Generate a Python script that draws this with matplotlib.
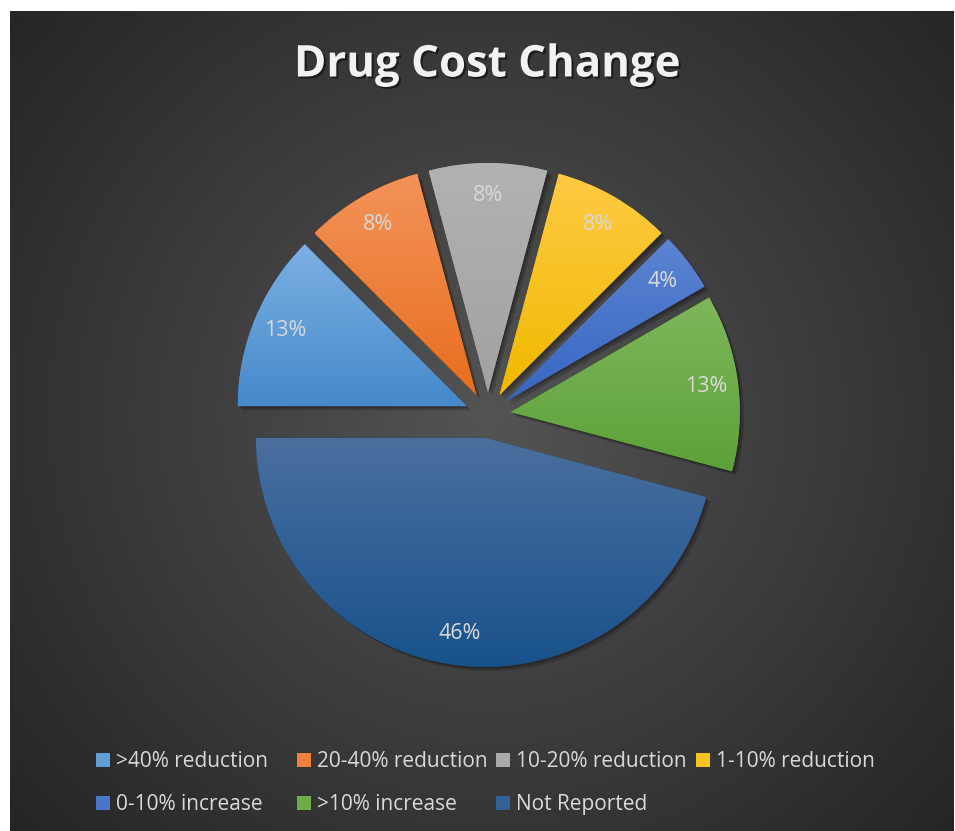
import numpy as np
import matplotlib
matplotlib.use("Agg")
import matplotlib.pyplot as plt
from matplotlib.patches import Patch
from matplotlib.legend import Legend
from matplotlib.colors import LinearSegmentedColormap, to_rgb
import matplotlib.patheffects as pe

plt.rcParams['font.family'] = ['Open Sans', 'DejaVu Sans']

# Data (counts out of 24 respondents -> 13%, 8%, 8%, 8%, 4%, 13%, 46%)
labels = [">40% reduction", "20-40% reduction", "10-20% reduction", "1-10% reduction",
          "0-10% increase", ">10% increase", "Not Reported"]
counts = [3, 2, 2, 2, 1, 3, 11]

# Excel style gradient fills (top colour, bottom colour)
top_colors = ["#7CB0E2", "#F3935A", "#B2B2B2", "#FFCA45", "#5C84D2", "#7EB75B", "#4B6F9F"]
bottom_colors = ["#468ACB", "#E86E1E", "#A2A2A2", "#F0B900", "#3767C2", "#5DA139", "#18528B"]

W, H = 955, 831
fig = plt.figure(figsize=(W / 100, H / 100), dpi=100, facecolor="white")
ax = fig.add_axes([0, 0, 1, 1])

# radial gradient background of the chart area
cx, cy = 488, 416
xx, yy = np.meshgrid(np.linspace(10, 953, 400), np.linspace(0, 820, 350))
d = np.hypot(xx - cx, yy - cy) / 640
bg = np.clip(84 - 48 * d, 30, 90) / 255
ax.imshow(np.dstack([bg, bg, bg]), extent=(10, 953, 0, 820), origin="lower",
          aspect="auto", zorder=0, interpolation="bilinear")

def pct_fmt(p):
    return f"{int(p + 0.5)}%"

wedges, texts, autotexts = ax.pie(
    counts, explode=[23] * len(counts), startangle=180, counterclock=False,
    radius=229, center=(cx, cy), autopct=pct_fmt, pctdistance=0.86,
    colors=bottom_colors, textprops=dict(color="#D9D9D9", fontsize=15.5),
    wedgeprops=dict(linewidth=0))

shadow = [pe.SimplePatchShadow(offset=(3, -3), shadow_rgbFace="black", alpha=0.18),
          pe.SimplePatchShadow(offset=(1.5, -1.5), shadow_rgbFace="black", alpha=0.22),
          pe.Normal()]

for w, c_top, c_bot in zip(wedges, top_colors, bottom_colors):
    w.set_path_effects(shadow)
    w.set_zorder(2)
    ext = w.get_path().get_extents()
    cmap = LinearSegmentedColormap.from_list("g", [c_bot, c_top])
    grad = np.linspace(0, 1, 256).reshape(-1, 1)
    im = ax.imshow(grad, extent=(ext.x0, ext.x1, ext.y0, ext.y1), origin="lower",
                   cmap=cmap, aspect="auto", zorder=3, interpolation="bilinear")
    im.set_clip_path(w)

for t in autotexts:
    t.set_zorder(5)

ax.text(487, 766, "Drug Cost Change", ha="center", va="center", fontsize=31.5,
        fontweight="bold", color="#F2F2F2", zorder=6,
        path_effects=[pe.SimplePatchShadow(offset=(1.5, -1.5), shadow_rgbFace="black", alpha=0.5),
                      pe.Normal()])

# legend laid out in equal-width cells like Excel
legend_colors = []
for a, b in zip(top_colors, bottom_colors):
    legend_colors.append(tuple((np.array(to_rgb(a)) + np.array(to_rgb(b))) / 2))

cols = [[0, 4], [1, 5], [2, 6], [3]]
col_x = [96, 297, 496, 696]
for xi, idx in zip(col_x, cols):
    handles = [Patch(facecolor=legend_colors[i]) for i in idx]
    leg = Legend(ax, handles, [labels[i] for i in idx], loc="upper left",
                 bbox_to_anchor=(xi, 80), bbox_transform=ax.transData, frameon=False,
                 fontsize=15, labelcolor="#D9D9D9", handlelength=0.65, handleheight=0.65,
                 handletextpad=0.3, labelspacing=1.05, borderpad=0, borderaxespad=0)
    ax.add_artist(leg)

ax.set_xlim(0, W)
ax.set_ylim(0, H)
ax.set_aspect("auto")
ax.axis("off")

fig.savefig("out.png", dpi=100, facecolor="white")
